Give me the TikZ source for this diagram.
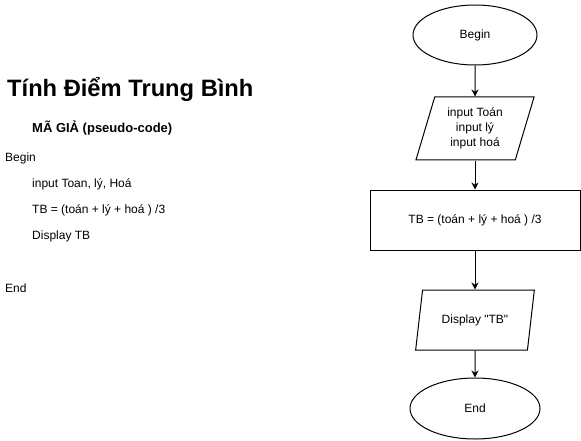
\documentclass[tikz,border=0pt]{standalone}
\usepackage{fontspec}
\setmainfont{Liberation Sans}[Ligatures=TeXOff]
\usepackage{tikz}
\usetikzlibrary{arrows.meta,shapes.geometric}

\tikzset{
  base/.style={draw, line width=1pt, font=\fontsize{12}{15}\selectfont, align=center, inner sep=2pt},
  terminal/.style={base, ellipse, minimum width=124pt, minimum height=60pt},
  io/.style={base, trapezium, trapezium left angle=73, trapezium right angle=107,
    trapezium stretches=true, minimum width=119pt, minimum height=60pt},
  process/.style={base, rectangle, minimum width=210pt, minimum height=60pt},
  code/.style={anchor=base west, inner sep=0pt, font=\fontsize{12}{15}\selectfont},
  flow/.style={-{Stealth[length=7pt,width=7pt]}, line width=1pt}
}

\begin{document}
\begin{tikzpicture}[x=1pt,y=-1pt]
   \useasboundingbox (0,0) rectangle (581,441);
   % Title
   \node[anchor=base west, inner sep=0pt, font=\fontsize{23.7}{28}\selectfont\bfseries] (title) at (7,97) {Tính Điểm Trung Bình};
   \node[anchor=base west, inner sep=0pt, font=\fontsize{13}{16}\selectfont\bfseries] (subtitle) at (32,133) {MÃ GIẢ (pseudo-code)};
   % Pseudo-code
   \node[code] (pbegin) at (5,161) {Begin};
   \node[code] (pinput) at (32,187) {input Toan, lý, Hoá};
   \node[code] (pcalc) at (32,213) {TB = (toán + lý + hoá ) /3};
   \node[code] (pshow) at (32,239) {Display TB};
   \node[code] (pend) at (5,292) {End};
   % Flowchart
   \node[terminal] (begin) at (475,35) {Begin};
   \node[io, minimum height=63pt] (input) at (475,128.5) {input Toán\\input lý\\input hoá};
   \node[process] (calc) at (475,220) {TB = (toán + lý + hoá ) /3};
   \node[io] (show) at (475,320) {Display "TB"};
   \node[terminal, minimum width=130pt, minimum height=61pt] (end) at (475,408.5) {End};
   % Arrows
   \draw[flow] (begin) -- (input);
   \draw[flow] (input) -- (calc);
   \draw[flow] (calc) -- (show);
   \draw[flow] (show) -- (end);
\end{tikzpicture}
\end{document}
